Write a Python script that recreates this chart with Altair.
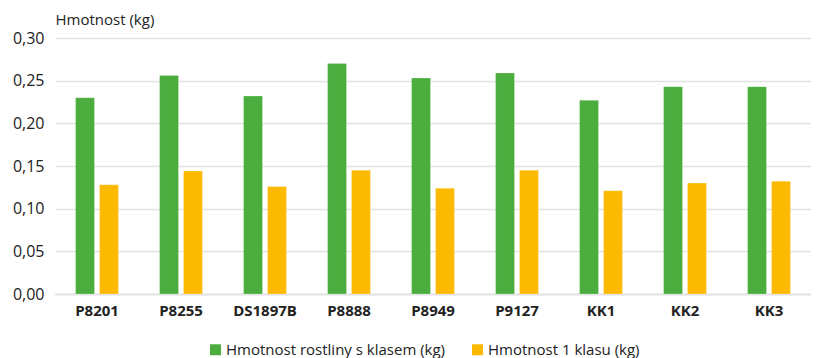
import altair as alt
import pandas as pd

categories = ["P8201", "P8255", "DS1897B", "P8888", "P8949", "P9127", "KK1", "KK2", "KK3"]
series_names = ["Hmotnost rostliny s klasem (kg)", "Hmotnost 1 klasu (kg)"]
plant_with_ear = [0.230, 0.256, 0.232, 0.270, 0.253, 0.259, 0.227, 0.243, 0.243]
one_ear = [0.128, 0.144, 0.126, 0.145, 0.124, 0.145, 0.121, 0.130, 0.132]
colors = ["#4AAD3D", "#FBBA00"]

rows = []
for i, c in enumerate(categories):
    rows.append({"cat": c, "series": series_names[0], "value": plant_with_ear[i]})
    rows.append({"cat": c, "series": series_names[1], "value": one_ear[i]})
df = pd.DataFrame(rows)

FONT = "Open Sans"

chart = alt.Chart(df).mark_bar(stroke="white", strokeWidth=0.6, strokeOpacity=0.4).encode(
    x=alt.X("cat:N", sort=categories,
            scale=alt.Scale(paddingInner=0.49, paddingOuter=0.245),
            axis=alt.Axis(title=None, labelAngle=0, labelFontWeight="bold",
                          labelFontSize=15, labelColor="#222222", labelPadding=9,
                          ticks=False, domainColor="#e3e3e3", domainWidth=2,
                          labelFont=FONT)),
    xOffset=alt.XOffset("series:N", sort=series_names,
                        scale=alt.Scale(paddingInner=0.21, paddingOuter=0)),
    y=alt.Y("value:Q", scale=alt.Scale(domain=[0, 0.30], nice=False),
            axis=alt.Axis(values=[0, 0.05, 0.10, 0.15, 0.20, 0.25, 0.30],
                          labelExpr="replace(format(datum.value, '.2f'), '.', ',')",
                          labelFontSize=16, labelColor="#222222", labelPadding=11,
                          domain=False, ticks=False, gridColor="#e3e3e3", gridWidth=1.5,
                          title="Hmotnost (kg)", titleAngle=0, titleX=0, titleY=-11,
                          titleAlign="left", titleBaseline="bottom", titleFontSize=15,
                          titleFontWeight="normal", titleColor="#222222",
                          labelFont=FONT, titleFont=FONT)),
    color=alt.Color("series:N", sort=series_names,
                    scale=alt.Scale(domain=series_names, range=colors),
                    legend=alt.Legend(title=None, orient="none", direction="horizontal",
                                      legendX=153, legendY=304, symbolType="square",
                                      symbolSize=120, symbolStrokeWidth=0,
                                      labelFontSize=15, labelColor="#222222",
                                      labelLimit=500,
                                      labelFont=FONT, columnPadding=24, labelOffset=3)),
).properties(
    width=756, height=256,
    autosize=alt.AutoSizeParams(type="none"),
    padding={"left": 47, "top": 30, "right": 0, "bottom": 70},
).configure_view(stroke=None)

chart.save("out.html", embed_options={"renderer": "svg", "actions": False})
